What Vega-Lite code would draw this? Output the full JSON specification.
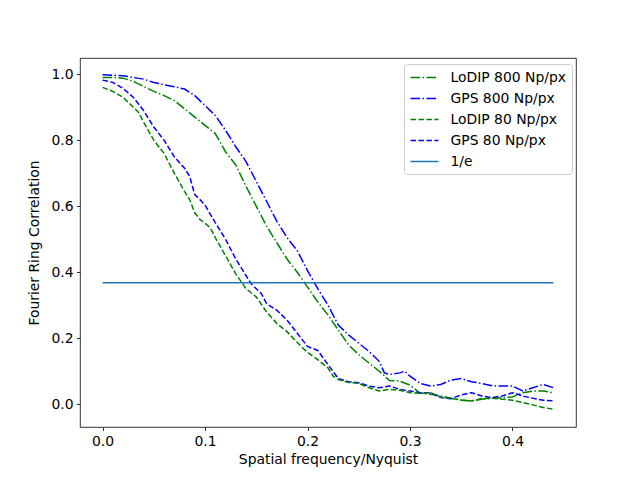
{
  "$schema": "https://vega.github.io/schema/vega-lite/v6.json",
  "width": 496,
  "height": 369,
  "autosize": {"type": "none"},
  "padding": {"left": 80, "top": 58, "right": 64, "bottom": 53},
  "background": "white",
  "config": {
    "view": {"stroke": "black", "strokeWidth": 0.8},
    "axis": {
      "grid": false,
      "domain": false,
      "labelFont": "DejaVu Sans",
      "labelFontSize": 13.9,
      "labelColor": "black",
      "tickColor": "black",
      "tickSize": 3.5,
      "tickWidth": 0.8,
      "labelPadding": 3.5,
      "titleFont": "DejaVu Sans",
      "titleFontSize": 13.9,
      "titleFontWeight": "normal",
      "titleColor": "black"
    },
    "legend": {
      "labelFont": "DejaVu Sans",
      "labelFontSize": 13.9,
      "labelColor": "black"
    }
  },
  "data": {
    "values": [
      {"series": "GPS 800 Np/px", "x": 0.0, "y": 0.998},
      {"series": "GPS 800 Np/px", "x": 0.01, "y": 0.997},
      {"series": "GPS 800 Np/px", "x": 0.02, "y": 0.995},
      {"series": "GPS 800 Np/px", "x": 0.03, "y": 0.99},
      {"series": "GPS 800 Np/px", "x": 0.04, "y": 0.985},
      {"series": "GPS 800 Np/px", "x": 0.05, "y": 0.975},
      {"series": "GPS 800 Np/px", "x": 0.06, "y": 0.968},
      {"series": "GPS 800 Np/px", "x": 0.07, "y": 0.962},
      {"series": "GPS 800 Np/px", "x": 0.08, "y": 0.955},
      {"series": "GPS 800 Np/px", "x": 0.09, "y": 0.935},
      {"series": "GPS 800 Np/px", "x": 0.1, "y": 0.905},
      {"series": "GPS 800 Np/px", "x": 0.11, "y": 0.875},
      {"series": "GPS 800 Np/px", "x": 0.12, "y": 0.83},
      {"series": "GPS 800 Np/px", "x": 0.13, "y": 0.78},
      {"series": "GPS 800 Np/px", "x": 0.14, "y": 0.735},
      {"series": "GPS 800 Np/px", "x": 0.15, "y": 0.675},
      {"series": "GPS 800 Np/px", "x": 0.16, "y": 0.615},
      {"series": "GPS 800 Np/px", "x": 0.17, "y": 0.555},
      {"series": "GPS 800 Np/px", "x": 0.18, "y": 0.505},
      {"series": "GPS 800 Np/px", "x": 0.19, "y": 0.465},
      {"series": "GPS 800 Np/px", "x": 0.2, "y": 0.405},
      {"series": "GPS 800 Np/px", "x": 0.21, "y": 0.35},
      {"series": "GPS 800 Np/px", "x": 0.22, "y": 0.3},
      {"series": "GPS 800 Np/px", "x": 0.23, "y": 0.24},
      {"series": "GPS 800 Np/px", "x": 0.24, "y": 0.21},
      {"series": "GPS 800 Np/px", "x": 0.25, "y": 0.185},
      {"series": "GPS 800 Np/px", "x": 0.26, "y": 0.16},
      {"series": "GPS 800 Np/px", "x": 0.27, "y": 0.13},
      {"series": "GPS 800 Np/px", "x": 0.275, "y": 0.095},
      {"series": "GPS 800 Np/px", "x": 0.28, "y": 0.09},
      {"series": "GPS 800 Np/px", "x": 0.29, "y": 0.095},
      {"series": "GPS 800 Np/px", "x": 0.295, "y": 0.1},
      {"series": "GPS 800 Np/px", "x": 0.3, "y": 0.085},
      {"series": "GPS 800 Np/px", "x": 0.31, "y": 0.063},
      {"series": "GPS 800 Np/px", "x": 0.32, "y": 0.055},
      {"series": "GPS 800 Np/px", "x": 0.33, "y": 0.06},
      {"series": "GPS 800 Np/px", "x": 0.34, "y": 0.073},
      {"series": "GPS 800 Np/px", "x": 0.35, "y": 0.078},
      {"series": "GPS 800 Np/px", "x": 0.36, "y": 0.068},
      {"series": "GPS 800 Np/px", "x": 0.37, "y": 0.063},
      {"series": "GPS 800 Np/px", "x": 0.38, "y": 0.056},
      {"series": "GPS 800 Np/px", "x": 0.39, "y": 0.055},
      {"series": "GPS 800 Np/px", "x": 0.4, "y": 0.055},
      {"series": "GPS 800 Np/px", "x": 0.41, "y": 0.04},
      {"series": "GPS 800 Np/px", "x": 0.42, "y": 0.05},
      {"series": "GPS 800 Np/px", "x": 0.43, "y": 0.06},
      {"series": "GPS 800 Np/px", "x": 0.44, "y": 0.05},

      {"series": "LoDIP 800 Np/px", "x": 0.0, "y": 0.99},
      {"series": "LoDIP 800 Np/px", "x": 0.01, "y": 0.99},
      {"series": "LoDIP 800 Np/px", "x": 0.02, "y": 0.988},
      {"series": "LoDIP 800 Np/px", "x": 0.03, "y": 0.978},
      {"series": "LoDIP 800 Np/px", "x": 0.04, "y": 0.963},
      {"series": "LoDIP 800 Np/px", "x": 0.05, "y": 0.948},
      {"series": "LoDIP 800 Np/px", "x": 0.06, "y": 0.935},
      {"series": "LoDIP 800 Np/px", "x": 0.07, "y": 0.92},
      {"series": "LoDIP 800 Np/px", "x": 0.08, "y": 0.895},
      {"series": "LoDIP 800 Np/px", "x": 0.09, "y": 0.87},
      {"series": "LoDIP 800 Np/px", "x": 0.1, "y": 0.845},
      {"series": "LoDIP 800 Np/px", "x": 0.11, "y": 0.82},
      {"series": "LoDIP 800 Np/px", "x": 0.12, "y": 0.765},
      {"series": "LoDIP 800 Np/px", "x": 0.13, "y": 0.725},
      {"series": "LoDIP 800 Np/px", "x": 0.14, "y": 0.66},
      {"series": "LoDIP 800 Np/px", "x": 0.15, "y": 0.6},
      {"series": "LoDIP 800 Np/px", "x": 0.16, "y": 0.54},
      {"series": "LoDIP 800 Np/px", "x": 0.17, "y": 0.49},
      {"series": "LoDIP 800 Np/px", "x": 0.18, "y": 0.44},
      {"series": "LoDIP 800 Np/px", "x": 0.19, "y": 0.4},
      {"series": "LoDIP 800 Np/px", "x": 0.2, "y": 0.355},
      {"series": "LoDIP 800 Np/px", "x": 0.21, "y": 0.31},
      {"series": "LoDIP 800 Np/px", "x": 0.22, "y": 0.27},
      {"series": "LoDIP 800 Np/px", "x": 0.23, "y": 0.225},
      {"series": "LoDIP 800 Np/px", "x": 0.24, "y": 0.18},
      {"series": "LoDIP 800 Np/px", "x": 0.25, "y": 0.15},
      {"series": "LoDIP 800 Np/px", "x": 0.26, "y": 0.125},
      {"series": "LoDIP 800 Np/px", "x": 0.27, "y": 0.1},
      {"series": "LoDIP 800 Np/px", "x": 0.28, "y": 0.072},
      {"series": "LoDIP 800 Np/px", "x": 0.29, "y": 0.07},
      {"series": "LoDIP 800 Np/px", "x": 0.3, "y": 0.058},
      {"series": "LoDIP 800 Np/px", "x": 0.31, "y": 0.033},
      {"series": "LoDIP 800 Np/px", "x": 0.32, "y": 0.03},
      {"series": "LoDIP 800 Np/px", "x": 0.33, "y": 0.025},
      {"series": "LoDIP 800 Np/px", "x": 0.34, "y": 0.018},
      {"series": "LoDIP 800 Np/px", "x": 0.35, "y": 0.012},
      {"series": "LoDIP 800 Np/px", "x": 0.36, "y": 0.01},
      {"series": "LoDIP 800 Np/px", "x": 0.37, "y": 0.015},
      {"series": "LoDIP 800 Np/px", "x": 0.38, "y": 0.018},
      {"series": "LoDIP 800 Np/px", "x": 0.39, "y": 0.02},
      {"series": "LoDIP 800 Np/px", "x": 0.4, "y": 0.022},
      {"series": "LoDIP 800 Np/px", "x": 0.41, "y": 0.035},
      {"series": "LoDIP 800 Np/px", "x": 0.42, "y": 0.04},
      {"series": "LoDIP 800 Np/px", "x": 0.43, "y": 0.04},
      {"series": "LoDIP 800 Np/px", "x": 0.44, "y": 0.035},

      {"series": "GPS 80 Np/px", "x": 0.0, "y": 0.982},
      {"series": "GPS 80 Np/px", "x": 0.01, "y": 0.975},
      {"series": "GPS 80 Np/px", "x": 0.02, "y": 0.957},
      {"series": "GPS 80 Np/px", "x": 0.03, "y": 0.93},
      {"series": "GPS 80 Np/px", "x": 0.04, "y": 0.89},
      {"series": "GPS 80 Np/px", "x": 0.05, "y": 0.84},
      {"series": "GPS 80 Np/px", "x": 0.06, "y": 0.8},
      {"series": "GPS 80 Np/px", "x": 0.07, "y": 0.75},
      {"series": "GPS 80 Np/px", "x": 0.08, "y": 0.715},
      {"series": "GPS 80 Np/px", "x": 0.085, "y": 0.69},
      {"series": "GPS 80 Np/px", "x": 0.09, "y": 0.635},
      {"series": "GPS 80 Np/px", "x": 0.095, "y": 0.62},
      {"series": "GPS 80 Np/px", "x": 0.1, "y": 0.603},
      {"series": "GPS 80 Np/px", "x": 0.11, "y": 0.55},
      {"series": "GPS 80 Np/px", "x": 0.12, "y": 0.5},
      {"series": "GPS 80 Np/px", "x": 0.13, "y": 0.44},
      {"series": "GPS 80 Np/px", "x": 0.14, "y": 0.39},
      {"series": "GPS 80 Np/px", "x": 0.145, "y": 0.365},
      {"series": "GPS 80 Np/px", "x": 0.15, "y": 0.35},
      {"series": "GPS 80 Np/px", "x": 0.155, "y": 0.335},
      {"series": "GPS 80 Np/px", "x": 0.16, "y": 0.305},
      {"series": "GPS 80 Np/px", "x": 0.17, "y": 0.285},
      {"series": "GPS 80 Np/px", "x": 0.18, "y": 0.255},
      {"series": "GPS 80 Np/px", "x": 0.19, "y": 0.215},
      {"series": "GPS 80 Np/px", "x": 0.2, "y": 0.175},
      {"series": "GPS 80 Np/px", "x": 0.21, "y": 0.163},
      {"series": "GPS 80 Np/px", "x": 0.22, "y": 0.12},
      {"series": "GPS 80 Np/px", "x": 0.23, "y": 0.078},
      {"series": "GPS 80 Np/px", "x": 0.24, "y": 0.068},
      {"series": "GPS 80 Np/px", "x": 0.25, "y": 0.065},
      {"series": "GPS 80 Np/px", "x": 0.26, "y": 0.055},
      {"series": "GPS 80 Np/px", "x": 0.27, "y": 0.05},
      {"series": "GPS 80 Np/px", "x": 0.28, "y": 0.055},
      {"series": "GPS 80 Np/px", "x": 0.29, "y": 0.045},
      {"series": "GPS 80 Np/px", "x": 0.3, "y": 0.04},
      {"series": "GPS 80 Np/px", "x": 0.31, "y": 0.035},
      {"series": "GPS 80 Np/px", "x": 0.32, "y": 0.035},
      {"series": "GPS 80 Np/px", "x": 0.33, "y": 0.02},
      {"series": "GPS 80 Np/px", "x": 0.34, "y": 0.017},
      {"series": "GPS 80 Np/px", "x": 0.35, "y": 0.028},
      {"series": "GPS 80 Np/px", "x": 0.36, "y": 0.035},
      {"series": "GPS 80 Np/px", "x": 0.37, "y": 0.025},
      {"series": "GPS 80 Np/px", "x": 0.38, "y": 0.02},
      {"series": "GPS 80 Np/px", "x": 0.39, "y": 0.025},
      {"series": "GPS 80 Np/px", "x": 0.4, "y": 0.035},
      {"series": "GPS 80 Np/px", "x": 0.41, "y": 0.025},
      {"series": "GPS 80 Np/px", "x": 0.42, "y": 0.018},
      {"series": "GPS 80 Np/px", "x": 0.43, "y": 0.012},
      {"series": "GPS 80 Np/px", "x": 0.44, "y": 0.01},

      {"series": "LoDIP 80 Np/px", "x": 0.0, "y": 0.96},
      {"series": "LoDIP 80 Np/px", "x": 0.01, "y": 0.948},
      {"series": "LoDIP 80 Np/px", "x": 0.02, "y": 0.93},
      {"series": "LoDIP 80 Np/px", "x": 0.03, "y": 0.9},
      {"series": "LoDIP 80 Np/px", "x": 0.035, "y": 0.885},
      {"series": "LoDIP 80 Np/px", "x": 0.04, "y": 0.855},
      {"series": "LoDIP 80 Np/px", "x": 0.05, "y": 0.8},
      {"series": "LoDIP 80 Np/px", "x": 0.06, "y": 0.76},
      {"series": "LoDIP 80 Np/px", "x": 0.07, "y": 0.7},
      {"series": "LoDIP 80 Np/px", "x": 0.08, "y": 0.645},
      {"series": "LoDIP 80 Np/px", "x": 0.085, "y": 0.62},
      {"series": "LoDIP 80 Np/px", "x": 0.09, "y": 0.58},
      {"series": "LoDIP 80 Np/px", "x": 0.095, "y": 0.56},
      {"series": "LoDIP 80 Np/px", "x": 0.1, "y": 0.548},
      {"series": "LoDIP 80 Np/px", "x": 0.105, "y": 0.535},
      {"series": "LoDIP 80 Np/px", "x": 0.11, "y": 0.505},
      {"series": "LoDIP 80 Np/px", "x": 0.12, "y": 0.45},
      {"series": "LoDIP 80 Np/px", "x": 0.13, "y": 0.395},
      {"series": "LoDIP 80 Np/px", "x": 0.14, "y": 0.35},
      {"series": "LoDIP 80 Np/px", "x": 0.15, "y": 0.325},
      {"series": "LoDIP 80 Np/px", "x": 0.16, "y": 0.28},
      {"series": "LoDIP 80 Np/px", "x": 0.17, "y": 0.245},
      {"series": "LoDIP 80 Np/px", "x": 0.18, "y": 0.22},
      {"series": "LoDIP 80 Np/px", "x": 0.19, "y": 0.187},
      {"series": "LoDIP 80 Np/px", "x": 0.2, "y": 0.157},
      {"series": "LoDIP 80 Np/px", "x": 0.21, "y": 0.135},
      {"series": "LoDIP 80 Np/px", "x": 0.22, "y": 0.11},
      {"series": "LoDIP 80 Np/px", "x": 0.225, "y": 0.085},
      {"series": "LoDIP 80 Np/px", "x": 0.23, "y": 0.075},
      {"series": "LoDIP 80 Np/px", "x": 0.24, "y": 0.066},
      {"series": "LoDIP 80 Np/px", "x": 0.25, "y": 0.063},
      {"series": "LoDIP 80 Np/px", "x": 0.26, "y": 0.05},
      {"series": "LoDIP 80 Np/px", "x": 0.27, "y": 0.04},
      {"series": "LoDIP 80 Np/px", "x": 0.28, "y": 0.045},
      {"series": "LoDIP 80 Np/px", "x": 0.29, "y": 0.042},
      {"series": "LoDIP 80 Np/px", "x": 0.3, "y": 0.035},
      {"series": "LoDIP 80 Np/px", "x": 0.31, "y": 0.033},
      {"series": "LoDIP 80 Np/px", "x": 0.32, "y": 0.035},
      {"series": "LoDIP 80 Np/px", "x": 0.33, "y": 0.022},
      {"series": "LoDIP 80 Np/px", "x": 0.34, "y": 0.017},
      {"series": "LoDIP 80 Np/px", "x": 0.35, "y": 0.013},
      {"series": "LoDIP 80 Np/px", "x": 0.36, "y": 0.01},
      {"series": "LoDIP 80 Np/px", "x": 0.37, "y": 0.017},
      {"series": "LoDIP 80 Np/px", "x": 0.38, "y": 0.018},
      {"series": "LoDIP 80 Np/px", "x": 0.39, "y": 0.015},
      {"series": "LoDIP 80 Np/px", "x": 0.4, "y": 0.012},
      {"series": "LoDIP 80 Np/px", "x": 0.41, "y": 0.005},
      {"series": "LoDIP 80 Np/px", "x": 0.42, "y": -0.002},
      {"series": "LoDIP 80 Np/px", "x": 0.43, "y": -0.01},
      {"series": "LoDIP 80 Np/px", "x": 0.44, "y": -0.015},

      {"series": "1/e", "x": 0.0, "y": 0.3679},
      {"series": "1/e", "x": 0.44, "y": 0.3679}
    ]
  },
  "mark": {"type": "line", "strokeWidth": 1.5, "clip": true},
  "encoding": {
    "x": {
      "field": "x",
      "type": "quantitative",
      "title": "Spatial frequency/Nyquist",
      "scale": {"domain": [-0.022, 0.462], "nice": false, "zero": false},
      "axis": {"values": [0, 0.1, 0.2, 0.3, 0.4], "format": ".1f", "titlePadding": 5}
    },
    "y": {
      "field": "y",
      "type": "quantitative",
      "title": "Fourier Ring Correlation",
      "scale": {"domain": [-0.069, 1.049], "nice": false, "zero": false},
      "axis": {"values": [0, 0.2, 0.4, 0.6, 0.8, 1.0], "format": ".1f", "titlePadding": 9}
    },
    "color": {
      "field": "series",
      "type": "nominal",
      "scale": {
        "domain": ["LoDIP 800 Np/px", "GPS 800 Np/px", "LoDIP 80 Np/px", "GPS 80 Np/px", "1/e"],
        "range": ["green", "blue", "green", "blue", "#1f77b4"]
      },
      "legend": {
        "title": null,
        "orient": "none",
        "legendX": 324,
        "legendY": 6,
        "symbolType": "M-1,0H3",
        "symbolSize": 196,
        "symbolStrokeWidth": 1.5,
        "labelOffset": 25,
        "rowPadding": 6,
        "padding": 5.5,
        "strokeColor": "#cccccc",
        "fillColor": "white",
        "cornerRadius": 3
      }
    },
    "strokeDash": {
      "field": "series",
      "type": "nominal",
      "scale": {
        "domain": ["LoDIP 800 Np/px", "GPS 800 Np/px", "LoDIP 80 Np/px", "GPS 80 Np/px", "1/e"],
        "range": [[9.6, 2.4, 1.5, 2.4], [9.6, 2.4, 1.5, 2.4], [5.55, 2.4], [5.55, 2.4], [1, 0]]
      },
      "legend": {
        "title": null,
        "orient": "none",
        "legendX": 324,
        "legendY": 6,
        "symbolType": "M-1,0H3",
        "symbolSize": 196,
        "symbolStrokeWidth": 1.5,
        "labelOffset": 25,
        "rowPadding": 6,
        "padding": 5.5,
        "strokeColor": "#cccccc",
        "fillColor": "white",
        "cornerRadius": 3
      }
    }
  }
}
